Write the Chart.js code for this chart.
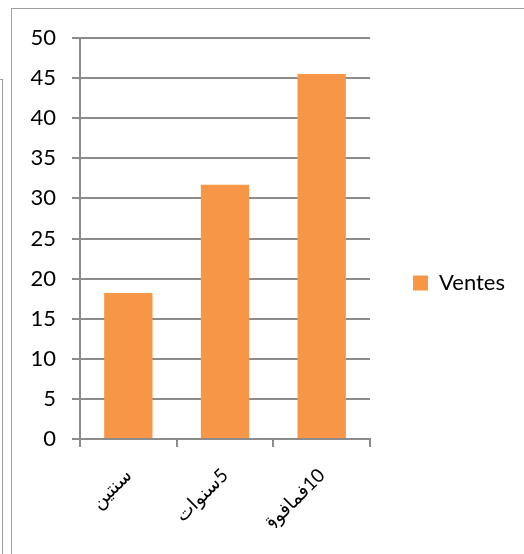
<!DOCTYPE html>
<html>
<head>
<meta charset="utf-8">
<script src="https://cdn.jsdelivr.net/npm/chart.js@4.4.1/dist/chart.umd.min.js"></script>
<style>
  html, body { margin: 0; padding: 0; background: #ffffff; }
  #wrap { position: relative; width: 524px; height: 554px; overflow: hidden; background: #fff; }
  #c { position: absolute; left: 0; top: 0; }
  .frameA { position: absolute; left: 11px; top: 8px; width: 600px; height: 700px; border-left: 1px solid #a0a0a0; border-top: 1px solid #a0a0a0; pointer-events: none; }
  .frameB { position: absolute; left: -5px; top: 79px; width: 7px; height: 700px; border-right: 1px solid #a0a0a0; border-top: 1px solid #a0a0a0; pointer-events: none; }
</style>
</head>
<body>
<div id="wrap">
  <canvas id="c" width="524" height="554"></canvas>
  <div class="frameB"></div>
  <div class="frameA"></div>
</div>
<script>
const categories = ["سنتين", "5سنوات", "10فمافوق"];
const seriesName = "Ventes";
const ventes = [18.2, 31.7, 45.5];
const yTicks = [0, 5, 10, 15, 20, 25, 30, 35, 40, 45, 50];

const RLM = "\u200F";
const gridColor = "#8c8c8c";
const fontFamily = "Lato, 'DejaVu Sans', sans-serif";
const legendFontSize = 22;
const legendPad = 43;
const legendBox = 15;

function build() {
  // reserve 154px on the right for the legend column
  const mctx = document.createElement("canvas").getContext("2d");
  mctx.font = legendFontSize + "px " + fontFamily;
  const tw = mctx.measureText(seriesName).width;
  const legendW = legendPad + legendBox + legendFontSize / 2 + tw + 10;
  const padRight = Math.max(0, Math.round(154 - legendW));

  new Chart(document.getElementById("c"), {
    type: "bar",
    data: {
      labels: categories.map(s => RLM + s),
      datasets: [{
        label: seriesName,
        data: ventes,
        backgroundColor: "#F79646",
        borderWidth: 0,
        barPercentage: 0.5,
        categoryPercentage: 1.0
      }]
    },
    options: {
      responsive: false,
      animation: false,
      devicePixelRatio: 1,
      layout: { padding: { top: 38, left: 0, right: padRight, bottom: 26 } },
      plugins: {
        tooltip: { enabled: false },
        legend: {
          position: "right",
          align: "center",
          maxWidth: 200,
          labels: {
            boxWidth: legendBox,
            boxHeight: legendBox,
            padding: legendPad,
            color: "#000",
            font: { family: fontFamily, size: legendFontSize }
          }
        }
      },
      scales: {
        x: {
          grid: { display: true, drawOnChartArea: false, drawTicks: true, tickLength: 8, color: gridColor, lineWidth: 2, offset: true },
          border: { display: true, color: gridColor, width: 2 },
          ticks: {
            minRotation: 45, maxRotation: 45, padding: 17,
            color: "#000",
            font: { family: fontFamily, size: 19 }
          },
          afterFit: s => { s.height = 89; }
        },
        y: {
          min: 0, max: 50,
          afterBuildTicks: s => { s.ticks = yTicks.map(v => ({ value: v })); },
          grid: { color: gridColor, lineWidth: 2, tickLength: 8, drawTicks: true },
          border: { display: true, color: gridColor, width: 2 },
          ticks: {
            padding: 16,
            color: "#000",
            font: { family: fontFamily, size: 22 }
          },
          afterFit: s => { s.width = 80; }
        }
      }
    }
  });
}

Promise.all([
  document.fonts.load("22px Lato"),
  document.fonts.load("19px 'DejaVu Sans'", "سنتين")
]).then(build, build);
</script>
</body>
</html>
